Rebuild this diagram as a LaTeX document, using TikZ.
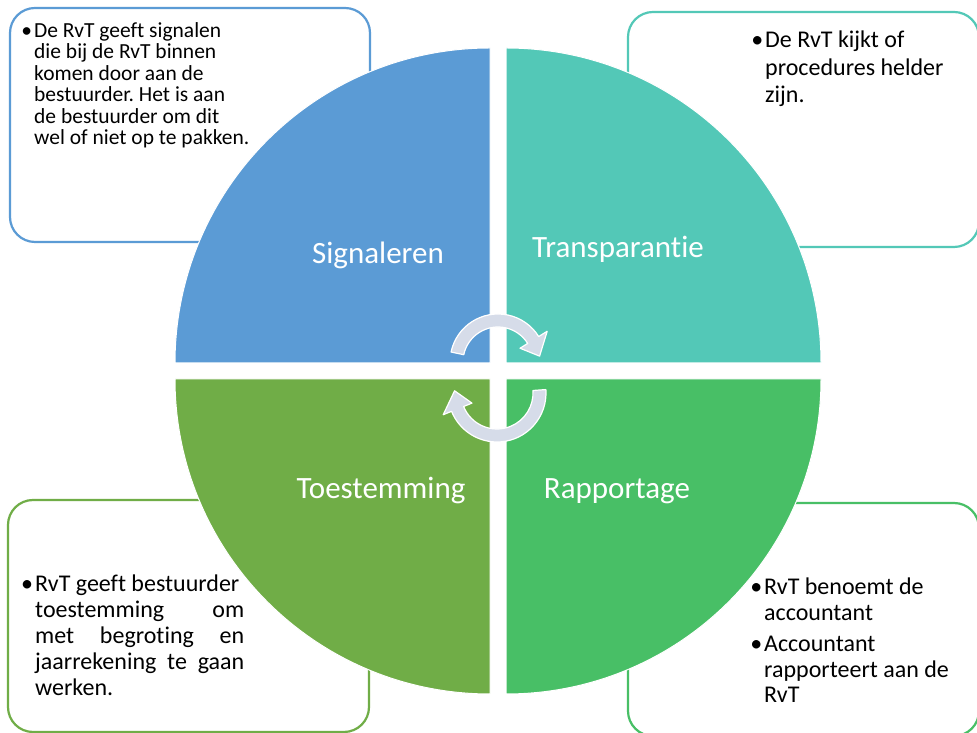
\documentclass[tikz,border=0pt]{standalone}
\usepackage{fontspec}
\setmainfont{Carlito}[Ligatures=NoCommon]
\definecolor{qblue}{HTML}{5B9BD5}
\definecolor{qteal}{HTML}{53C8B7}
\definecolor{qgreenA}{HTML}{70AD47}
\definecolor{qgreenB}{HTML}{48BF66}
\definecolor{arrowfill}{HTML}{D6DCE9}
\newcommand{\bul}{\llap{\textbullet\hspace{2pt}}}
\frenchspacing
\begin{document}
\begin{tikzpicture}[x=1pt,y=1pt,
  infobox/.style={line width=2.2pt, rounded corners=25pt, fill=white, inner sep=0pt, outer sep=0pt, anchor=south west},
  quad/.style={draw=white, line width=1pt},
  qlabel/.style={text=white, font=\fontsize{31}{36}\selectfont, inner sep=0pt},
  cyc/.style={fill=arrowfill, draw=white, line width=1.2pt, line join=round},
  btext/.style={anchor=north west, inner sep=0pt, align=left, text=black}]
\useasboundingbox (0,0) rectangle (977,733);
\fill[white] (0,0) rectangle (977,733);

% info boxes
\node[infobox, draw=qblue, minimum width=360, minimum height=234] (tlbox) at (10,491) {};
\node[infobox, draw=qteal, minimum width=351, minimum height=235] (trbox) at (628,486) {};
\node[infobox, draw=qgreenA, minimum width=361, minimum height=232] (blbox) at (8,1) {};
\node[infobox, draw=qgreenB, minimum width=351, minimum height=233] (brbox) at (628,-3) {};

% quadrants
\fill[qblue, quad] (490,370) -- ++(-315,0) arc[start angle=180, end angle=90, radius=315] -- cycle;
\fill[qteal, quad] (506,370) -- ++(0,315) arc[start angle=90, end angle=0, radius=315] -- cycle;
\fill[qgreenA, quad] (490,354) -- ++(-315,0) arc[start angle=180, end angle=270, radius=315] -- cycle;
\fill[qgreenB, quad] (506,354) -- ++(315,0) arc[start angle=0, end angle=-90, radius=315] -- cycle;

% quadrant labels
\node[qlabel] (sig) at (378,478) {Signaleren};
\node[qlabel] (tra) at (618,484) {Transparantie};
\node[qlabel] (toe) at (381,242) {Toestemming};
\node[qlabel] (rap) at (617,242) {Rapportage};

% circular arrows
\draw[cyc, shift={(498,371)}] (168:48) arc[start angle=168, end angle=32, radius=48]
  -- (32:58) -- (8:42) -- (32:26) -- (32:35)
  arc[start angle=32, end angle=168, radius=35] -- cycle;
\draw[cyc, shift={(497,340)}] (4:49) arc[start angle=4, end angle=-158, radius=49]
  -- (-158:58) -- (-183:42.5) -- (-158:27) -- (-158:36)
  arc[start angle=-158, end angle=4, radius=36] -- cycle;

% box texts
\node[btext, font=\fontsize{21.5}{21.5}\selectfont] (tltext) at (34,711) {%
\bul De RvT geeft signalen\\
die bij de RvT binnen\\
komen door aan de\\
bestuurder. Het is aan\\
de bestuurder om dit\\
wel of niet op te pakken.};

\node[btext, font=\fontsize{24}{27.5}\selectfont] (trtext) at (765,702) {%
\bul De RvT kijkt of\\
procedures helder\\
zijn.};

\node[btext, font=\fontsize{24}{26}\selectfont] (bltext) at (35,158) {%
\bul RvT geeft bestuurder\\
\makebox[209pt][s]{toestemming om}\\
\makebox[209pt][s]{met begroting en}\\
\makebox[209pt][s]{jaarrekening te gaan}\\
werken.};

\node[btext, font=\fontsize{24}{25.5}\selectfont] (brtext) at (764,155) {%
\bul RvT benoemt de\\
accountant\\[6pt]
\bul Accountant\\
rapporteert aan de\\
RvT};
\end{tikzpicture}
\end{document}
